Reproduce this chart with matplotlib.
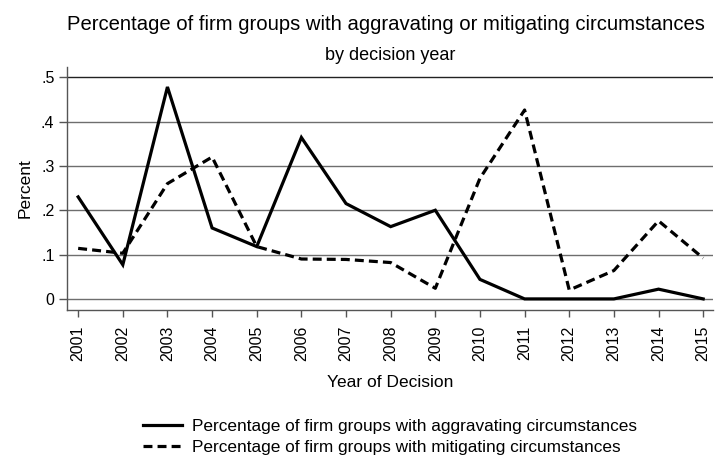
import matplotlib
matplotlib.use("Agg")
import matplotlib.pyplot as plt

plt.rcParams['font.family'] = ['Liberation Sans', 'DejaVu Sans']

years = list(range(2001, 2016))
aggravating = [0.23, 0.077, 0.478, 0.16, 0.118, 0.364, 0.215, 0.163, 0.20, 0.044, 0.0, 0.0, 0.0, 0.022, 0.0]
mitigating = [0.114, 0.103, 0.26, 0.32, 0.118, 0.09, 0.089, 0.082, 0.024, 0.272, 0.426, 0.02, 0.064, 0.176, 0.092]
yticks = [0, 0.1, 0.2, 0.3, 0.4, 0.5]
ytick_labels = ['0', '.1', '.2', '.3', '.4', '.5']

W, H = 716, 457
fig = plt.figure(figsize=(W/100, H/100), dpi=100)
ax = fig.add_axes([67/W, 1 - 310/H, (713-67)/W, (310-67)/H])

for t in yticks:
    ax.axhline(t, color='#222222' if t == 0.5 else '#6e6e6e', lw=1.0, zorder=1)

l1, = ax.plot(years, aggravating, color='black', lw=2.3, solid_joinstyle='miter', zorder=3,
              label='Percentage of firm groups with aggravating circumstances')
l2, = ax.plot(years, mitigating, color='black', lw=2.3, ls=(0, (2.8, 1.6)), zorder=3,
              label='Percentage of firm groups with mitigating circumstances')

ax.set_xlim(2000.75, 2015.22)
ax.set_ylim(-0.025, 0.523)
ax.set_xticks(years)
ax.set_xticklabels([str(y) for y in years], rotation=90, fontsize=11.5)
ax.set_yticks(yticks)
ax.set_yticklabels(ytick_labels, fontsize=11.5)
ax.tick_params(axis='x', direction='out', length=5, width=1, color='#555555', pad=6)
ax.tick_params(axis='y', direction='out', length=6, width=1, color='#555555', pad=3)
for s in ['top', 'right']:
    ax.spines[s].set_visible(False)
for s in ['left', 'bottom']:
    ax.spines[s].set_color('#555555')
    ax.spines[s].set_linewidth(1)

ax.set_ylabel('Percent', fontsize=12.5, labelpad=6)
ax.set_xlabel('Year of Decision', fontsize=12.5, labelpad=10)

cx = (67 + 713) / 2 / W
fig.text(cx - 4/W, 1 - 24/H, 'Percentage of firm groups with aggravating or mitigating circumstances',
         ha='center', va='center', fontsize=14.6)
fig.text(cx, 1 - 56/H, 'by decision year', ha='center', va='center', fontsize=13)

fig.legend(handles=[l1, l2], loc='center', bbox_to_anchor=(cx, 1 - 437/H), frameon=False,
           fontsize=12.4, handlelength=2.3, handletextpad=0.6, labelspacing=0.3, borderaxespad=0)

fig.savefig('out.png', dpi=100, facecolor='white')
